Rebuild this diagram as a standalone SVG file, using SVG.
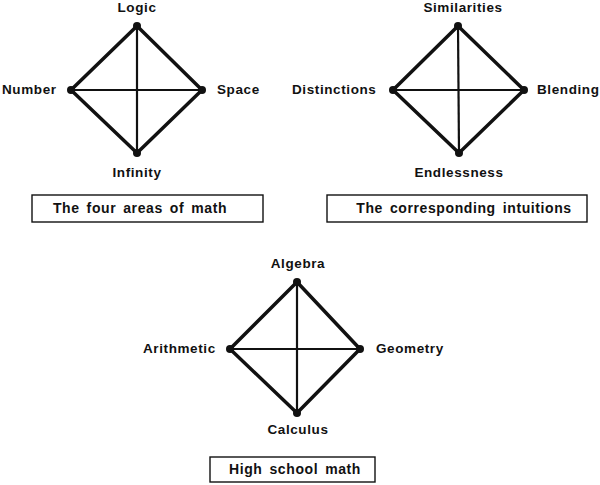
<svg xmlns="http://www.w3.org/2000/svg" width="600" height="485" viewBox="0 0 600 485">
<style>
text{font-family:"Liberation Sans",Arial,sans-serif;font-weight:bold;font-size:13.5px;fill:#111;letter-spacing:0.6px}
.m{text-anchor:middle}
.c{text-anchor:middle;font-size:14px;word-spacing:2.5px}
.edge{stroke:#111;stroke-width:3.5;fill:none;stroke-linejoin:round}
.cross{stroke:#111;stroke-width:2.2;fill:none}
.dot{fill:#111}
.box{fill:#fff;stroke:#111;stroke-width:1.4}
</style>
<rect width="600" height="485" fill="#fff"/>
<g id="connectors">
<polygon class="edge" points="137,26 202,90 137,153 71,90"/>
<line class="cross" x1="137" y1="26" x2="137" y2="153"/>
<line class="cross" x1="71" y1="90" x2="202" y2="90"/>
<polygon class="edge" points="458,26 524,90 459,153 393,90"/>
<line class="cross" x1="458" y1="26" x2="459" y2="153"/>
<line class="cross" x1="393" y1="90" x2="524" y2="90"/>
<polygon class="edge" points="297,282 360,349 297,413 230,349"/>
<line class="cross" x1="297" y1="282" x2="297" y2="413"/>
<line class="cross" x1="230" y1="349" x2="360" y2="349"/>
</g>
<g id="logic"><circle class="dot" cx="137" cy="26" r="4"/><text class="m" x="137" y="12">Logic</text></g>
<g id="number"><circle class="dot" cx="71" cy="90" r="4"/><text x="2" y="94">Number</text></g>
<g id="space"><circle class="dot" cx="202" cy="90" r="4"/><text x="217" y="94">Space</text></g>
<g id="infinity"><circle class="dot" cx="137" cy="153" r="4"/><text class="m" x="137" y="177">Infinity</text></g>
<g id="caption1"><rect class="box" x="32" y="195" width="231" height="27"/><text class="c" x="140" y="213">The four areas of math</text></g>
<g id="similarities"><circle class="dot" cx="458" cy="26" r="4"/><text class="m" x="463" y="12">Similarities</text></g>
<g id="distinctions"><circle class="dot" cx="393" cy="90" r="4"/><text x="292" y="94">Distinctions</text></g>
<g id="blending"><circle class="dot" cx="524" cy="90" r="4"/><text x="537" y="94">Blending</text></g>
<g id="endlessness"><circle class="dot" cx="459" cy="153" r="4"/><text class="m" x="459" y="177">Endlessness</text></g>
<g id="caption2"><rect class="box" x="327" y="195" width="260" height="27"/><text class="c" x="464" y="213">The corresponding intuitions</text></g>
<g id="algebra"><circle class="dot" cx="297" cy="282" r="4"/><text class="m" x="298" y="268">Algebra</text></g>
<g id="arithmetic"><circle class="dot" cx="230" cy="349" r="4"/><text x="143" y="353">Arithmetic</text></g>
<g id="geometry"><circle class="dot" cx="360" cy="349" r="4"/><text x="376" y="353">Geometry</text></g>
<g id="calculus"><circle class="dot" cx="297" cy="413" r="4"/><text class="m" x="298" y="434">Calculus</text></g>
<g id="caption3"><rect class="box" x="210" y="457" width="165" height="25"/><text class="c" x="295" y="474">High school math</text></g>
</svg>
